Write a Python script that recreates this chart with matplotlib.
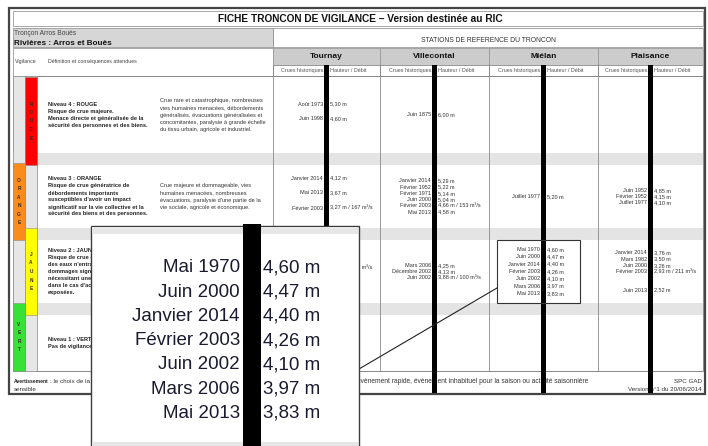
import matplotlib.pyplot as plt
from matplotlib.patches import Rectangle

plt.rcParams['font.family'] = ['Liberation Sans', 'DejaVu Sans']

# ---- texts / data -------------------------------------------------------
title = "FICHE TRONCON DE VIGILANCE – Version destinée au RIC"
troncon = "Tronçon Arros Bouès"
rivieres = "Rivières : Arros et Bouès"
stations_header = "STATIONS DE REFERENCE DU TRONCON"
col_header = ["Vigilance", "Définition et conséquences attendues"]
stations = ["Tournay", "Villecontal", "Miélan", "Plaisance"]
sub_left = "Crues historiques"
sub_right = "Hauteur / Débit"

levels = ["ROUGE", "ORANGE", "JAUNE", "VERT"]
level_colors = ["#ff0000", "#fa8c1e", "#ffff00", "#38e038"]
level_defs = [
    ["Niveau 4 : ROUGE", "Risque de crue majeure.", "Menace directe et généralisée de la",
     "sécurité des personnes et des biens."],
    ["Niveau 3 : ORANGE", "Risque de crue génératrice de", "débordements importants",
     "susceptibles d'avoir un impact", "significatif sur la vie collective et la",
     "sécurité des biens et des personnes."],
    ["Niveau 2 : JAUNE", "Risque de crue ou de montée rapide", "des eaux n'entraînant pas de",
     "dommages significatifs, mais", "nécessitant une vigilance particulière",
     "dans le cas d'activités saisonnières et/ou", "exposées."],
    ["Niveau 1 : VERT", "Pas de vigilance particulière requise."],
]
level_effects = [
    ["Crue rare et catastrophique, nombreuses", "vies humaines menacées, débordements",
     "généralisés, évacuations généralisées et", "concomitantes, paralysie à grande échelle",
     "du tissu urbain, agricole et industriel."],
    ["Crue majeure et dommageable, vies", "humaines menacées, nombreuses",
     "évacuations, paralysie d'une partie de la", "vie sociale, agricole et économique."],
    [],
    [],
]

tournay_rouge = [("Août 1973", "5,30 m"), ("Juin 1998", "4,60 m")]
villecontal_rouge = [("Juin 1875", "6,00 m")]
mielan_rouge = []
plaisance_rouge = []

tournay_orange = [("Janvier 2014", "4,12 m"), ("Mai 2013", "3,67 m"),
                  ("Février 2003", "3,27 m / 167 m³/s")]
villecontal_orange = [("Janvier 2014", "5,29 m"), ("Février 1952", "5,22 m"),
                      ("Février 1971", "5,14 m"), ("Juin 2000", "5,04 m"),
                      ("Février 2003", "4,66 m / 153 m³/s"), ("Mai 2013", "4,58 m")]
mielan_orange = [("Juillet 1977", "5,20 m")]
plaisance_orange = [("Juin 1952", "4,85 m"), ("Février 1952", "4,15 m"),
                    ("Juillet 1977", "4,10 m")]

tournay_jaune = [("Juin 2000", "2,92 m / 125 m³/s")]
villecontal_jaune = [("Mars 2006", "4,25 m"), ("Décembre 2002", "4,13 m"),
                     ("Juin 2002", "3,88 m / 100 m³/s")]
mielan_jaune = [("Mai 1970", "4,60 m"), ("Juin 2000", "4,47 m"), ("Janvier 2014", "4,40 m"),
                ("Février 2003", "4,26 m"), ("Juin 2002", "4,10 m"), ("Mars 2006", "3,97 m"),
                ("Mai 2013", "3,83 m")]
plaisance_jaune = [("Janvier 2014", "3,76 m"), ("Mars 1982", "3,50 m"), ("Juin 2000", "3,26 m"),
                   ("Février 2003", "2,93 m / 211 m³/s"), ("", ""), ("", ""),
                   ("Juin 2013", "2,52 m")]

records = [
    [tournay_rouge, villecontal_rouge, mielan_rouge, plaisance_rouge],
    [tournay_orange, villecontal_orange, mielan_orange, plaisance_orange],
    [tournay_jaune, villecontal_jaune, mielan_jaune, plaisance_jaune],
    [[], [], [], []],
]

warning_bold = "Avertissement"
warning_start = ": le choix de la couleur"
warning_end = ("phénomène exceptionnel, évènement rapide, évènement inhabituel pour la saison "
               "ou activité saisonnière")
warning_line2 = "sensible"
footer_right = ["SPC GAD", "Version n°1 du 20/06/2014"]

# ---- layout (pixels) -----------------------------------------------------
W, H = 708, 446
L, R = 13, 703
col_edges = [273, 380, 489, 598, 703]
bar_w = 5
blocks = [(77, 153), (165, 228), (240, 303), (315, 371)]
bars = [(1, 77, 165), (0, 163, 240), (1, 228, 315), (0, 303, 371)]
line_step = [15, 6.2, 7.3, 6.2]
tiny = 4.0
inset = (91, 226, 359)

fig = plt.figure(figsize=(W / 100, H / 100), dpi=100)
ax = fig.add_axes([0, 0, 1, 1])
ax.set_xlim(0, W)
ax.set_ylim(H, 0)
ax.axis('off')


def box(x0, y0, x1, y1, fc='none', ec='none', lw=0.6, z=1):
    ax.add_patch(Rectangle((x0, y0), x1 - x0, y1 - y0, facecolor=fc, edgecolor=ec,
                           linewidth=lw, zorder=z))


def txt(x, y, s, size=tiny, ha='left', weight='normal', color='#222222', z=5):
    ax.text(x, y, s, fontsize=size, ha=ha, va='center', fontweight=weight, color=color,
            zorder=z)


# page frame
box(9, 8, 705, 394, ec='#444444', lw=1.6, z=0.5)
box(L, 11, R, 26, ec='#999999')
txt(360, 18.5, title, size=7.3, ha='center', weight='bold', color='#111111')

# river row
box(L, 28, col_edges[0], 47, fc='#d6d6d6', ec='#999999')
box(col_edges[0], 28, R, 47, ec='#999999')
txt(14, 33.5, troncon, size=4.8, color='#444444')
txt(14, 43.5, rivieres, size=5.9, weight='bold', color='#111111')
txt((col_edges[0] + R) / 2, 40, stations_header, size=4.9, ha='center', color='#333333')

# header row
box(L, 48, col_edges[0], 76, ec='#999999')
txt(15, 62, col_header[0], size=3.8, color='#444444')
txt(48, 62, col_header[1], size=3.8, color='#444444')
for i, name in enumerate(stations):
    x0, x1 = col_edges[i], col_edges[i + 1]
    box(x0, 48, x1, 64.5, fc='#cccccc', ec='#999999')
    txt((x0 + x1) / 2, 57, name, size=6, ha='center', weight='bold', color='#111111')
    box(x0, 64.5, x1, 76, ec='#999999')

# table body
box(L, 76, R, 371, ec='#888888', lw=0.7)
for s0, s1 in zip([b[1] for b in blocks[:-1]], [b[0] for b in blocks[1:]]):
    box(L, s0, R, s1, fc='#e4e4e4', z=1.2)
box(L, 76, 25, 371, fc='#e6e6e6', ec='#999999', z=1.3)
box(25, 76, 37, 371, fc='#e6e6e6', ec='#999999', z=1.3)
for x in col_edges[:-1]:
    ax.plot([x, x], [64.5, 371], color='#888888', lw=0.6, zorder=2)

for k, lev in enumerate(levels):
    col, y0, y1 = bars[k]
    cx0 = 13 + 12 * col
    box(cx0, y0, cx0 + 12, y1, fc=level_colors[k], ec='#888888', lw=0.4, z=1.5)
    yc = (y0 + y1) / 2
    for j, ch in enumerate(lev):
        txt(cx0 + 6, yc + (j - (len(lev) - 1) / 2) * 8.5, ch, size=3.4, ha='center',
            weight='bold', color='#3a2a2a')
    b0, b1 = blocks[k]
    bc = (b0 + b1) / 2
    for j, line in enumerate(level_defs[k]):
        txt(48, bc + (j - (len(level_defs[k]) - 1) / 2) * 7, line, size=4.1,
            weight='bold', color='#222222')
    for j, line in enumerate(level_effects[k]):
        txt(160, bc + (j - (len(level_effects[k]) - 1) / 2) * 7.2, line, size=4.1,
            color='#333333')
    for i in range(len(stations)):
        xc = (col_edges[i] + col_edges[i + 1]) / 2
        recs = records[k][i]
        shift = -3.5 if line_step[i] > 10 else 0
        for j, (d, v) in enumerate(recs):
            y = bc + shift + (j - (len(recs) - 1) / 2) * line_step[i]
            txt(xc - bar_w / 2 - 1, y, d, size=tiny, ha='right', color='#333333')
            txt(xc + bar_w / 2 + 1, y, v, size=tiny, color='#333333')

# station sub headers and black bars
for i in range(len(stations)):
    xc = (col_edges[i] + col_edges[i + 1]) / 2
    txt(xc - bar_w / 2 - 1, 70.5, sub_left, size=3.9, ha='right', color='#555555')
    txt(xc + bar_w / 2 + 1, 70.5, sub_right, size=3.9, color='#555555')
    box(xc - bar_w / 2, 64.5, xc + bar_w / 2, 393, fc='black', z=6)

# highlight box around Miélan / Jaune
box(497, 240, 580, 303, ec='#333333', lw=0.8, z=7)

# footer
txt(14, 381.5, warning_bold, size=3.6, weight='bold', color='#222222')
txt(50, 381.5, warning_start, size=4.5, color='#333333')
txt(588, 381.5, warning_end, size=4.8, ha='right', color='#333333')
txt(14, 389.5, warning_line2, size=4.5, color='#333333')
txt(702, 381.5, footer_right[0], size=4.5, ha='right', color='#333333')
txt(702, 389.5, footer_right[1], size=4.5, ha='right', color='#333333')

# zoom inset (covers part of the table)
ax.plot([inset[2], 497], [369, 288], color='#222222', lw=0.8, zorder=7)
box(inset[0], inset[1], inset[2], 452, fc='white', ec='#3c3c3c', lw=1.0, z=8)
box(inset[0] + 1, inset[1] + 1, inset[2] - 1, inset[1] + 8, fc='#e6e6e6', z=8.1)
box(inset[0] + 1, 442, inset[2] - 1, 451, fc='#e6e6e6', z=8.1)
box(243, 224, 261, 450, fc='black', z=8.5)
for j, (d, v) in enumerate(mielan_jaune):
    y = 268 + j * 24.2
    ax.text(240, y, d, fontsize=13.5, ha='right', va='center', color='#1a1a30', zorder=9)
    ax.text(263, y, v, fontsize=13.5, ha='left', va='center', color='#1a1a30', zorder=9)

fig.savefig('out.png', dpi=100, facecolor='white')
